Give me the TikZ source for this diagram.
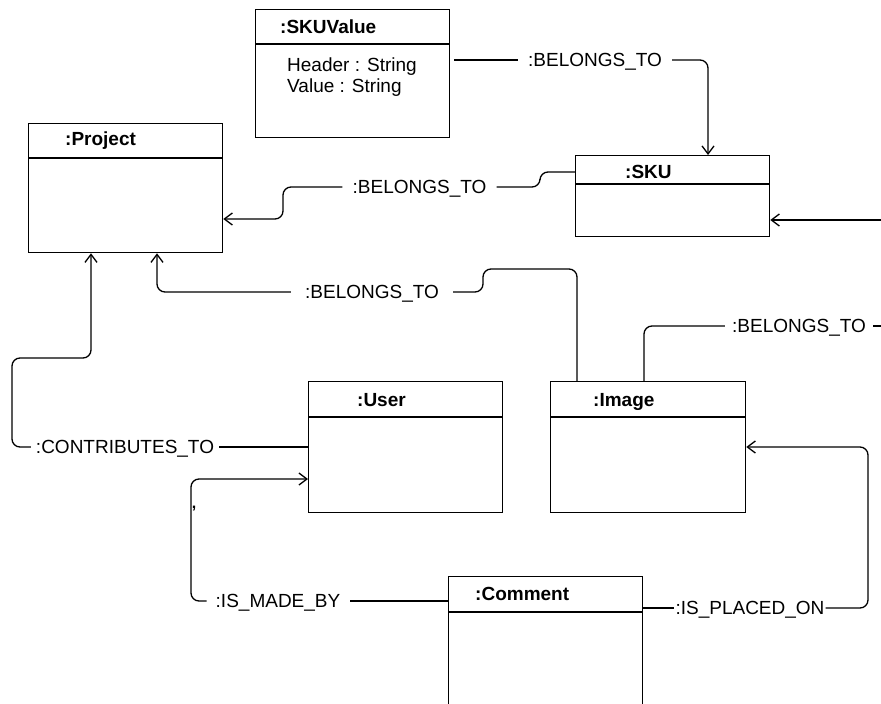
\documentclass[tikz,border=0pt]{standalone}
\usepackage{fontspec}
\setmainfont{Liberation Sans}
\usetikzlibrary{arrows.meta}
\begin{document}
\begin{tikzpicture}[x=1pt,y=-1pt,
  every node/.style={font=\fontsize{19}{23}\selectfont},
  umlbox/.style={draw, line width=1.3pt, rectangle, inner sep=0pt, anchor=north west, minimum width=194pt},
  ttl/.style={font=\fontsize{19}{23}\selectfont\bfseries, anchor=base west, inner sep=0pt},
  attr/.style={anchor=base west, inner sep=0pt},
  lab/.style={inner xsep=8pt, inner ysep=0pt, text height=13.6pt, text depth=0pt},
  conn/.style={line width=1.3pt, rounded corners=8pt},
  arr/.style={conn, -{Straight Barb[length=8pt,width=12pt]}},
  hdr/.style={line width=1.3pt}
]
\useasboundingbox (0,0) rectangle (881,704);
\clip (0,0) rectangle (881,704);

% boxes
\node[umlbox, minimum height=128pt] (skuv) at (255,9) {};
\node[umlbox, minimum height=129pt] (proj) at (28,123) {};
\node[umlbox, minimum height=81pt] (sku) at (575,155) {};
\node[umlbox, minimum height=131pt] (user) at (308,381) {};
\node[umlbox, minimum height=131pt, minimum width=195pt] (img) at (550,381) {};
\node[umlbox, minimum height=150pt] (comm) at (448,576) {};

% header lines
\draw[hdr] (skuv.west |- 0,44) -- (skuv.east |- 0,44);
\draw[hdr] (proj.west |- 0,158) -- (proj.east |- 0,158);
\draw[hdr] (sku.west |- 0,184) -- (sku.east |- 0,184);
\draw[hdr] (user.west |- 0,417) -- (user.east |- 0,417);
\draw[hdr] (img.west |- 0,417) -- (img.east |- 0,417);
\draw[hdr] (comm.west |- 0,612) -- (comm.east |- 0,612);

% titles
\node[ttl] (tskuv) at (280,33) {:SKUValue};
\node[attr] (a1) at (287,71) {Header : String};
\node[attr] (a2) at (287,92) {Value : String};
\node[ttl] (tproj) at (65,145) {:Project};
\node[ttl] (tsku) at (625,178) {:SKU};
\node[ttl] (tuser) at (357,406) {:User};
\node[ttl] (timg) at (593,406) {:Image};
\node[ttl] (tcomm) at (475,600) {:Comment};

% labels
\node[lab, inner xsep=10pt] (l1) at (595,60) {:BELONGS\_TO};
\node[lab, inner xsep=10pt] (l2) at (419.5,187) {:BELONGS\_TO};
\node[lab, inner xsep=14pt] (l3) at (372,292) {:BELONGS\_TO};
\node[lab, inner xsep=7pt] (l4) at (799,326) {:BELONGS\_TO};
\node[lab, inner xsep=5pt] (l5) at (125,447) {:CONTRIBUTES\_TO};
\node[lab, inner xsep=9pt] (l6) at (278,601) {:IS\_MADE\_BY};
\node[lab, inner xsep=1pt] (l7) at (750,608) {:IS\_PLACED\_ON};
\node[inner sep=0pt, font=\fontsize{16}{16}\selectfont\bfseries] (tick) at (194,509) {,};

% bend coordinates
\coordinate (c1) at (708,60);
\coordinate (c2a) at (540,172);
\coordinate (c2b) at (283,219);
\coordinate (c3a) at (577,269);
\coordinate (c3b) at (483,269);
\coordinate (c3c) at (157,292);
\coordinate (c4) at (644,326);
\coordinate (e4) at (881,326);
\coordinate (e5) at (881,220);
\coordinate (c5a) at (12,447);
\coordinate (c5b) at (12,358);
\coordinate (c5c) at (91,358);
\coordinate (c6a) at (191,601);
\coordinate (c6b) at (191,479);
\coordinate (c7a) at (868,608);
\coordinate (c7b) at (868,447);

% connectors
% SKUValue -> SKU
\draw[conn] ([xshift=4pt]skuv.east |- l1) -- (l1.west);
\draw[arr] (l1.east) -- (c1) -- (c1 |- sku.north);
% SKU -> Project
\draw[conn] (c2a -| sku.west) -- (c2a) -- (c2a |- l2) -- (l2.east);
\draw[arr] (l2.west) -- (c2b |- l2) -- (c2b) -- (c2b -| proj.east);
% Image -> Project
\draw[conn] (c3a |- img.north) -- (c3a) -- (c3b) -- (c3b |- l3) -- (l3.east);
\draw[arr] (l3.west) -- (c3c) -- (c3c |- proj.south);
% Image -> off page
\draw[conn] (c4 |- img.north) -- (c4) -- (l4.west);
\draw[conn] (l4.east) -- (e4);
% off page -> SKU
\draw[arr] (e5) -- (e5 -| sku.east);
% User -> Project
\draw[conn] (l5.east) -- (l5.east -| user.west);
\draw[arr] (l5.west) -- (c5a) -- (c5b) -- (c5c) -- (c5c |- proj.south);
% Comment -> User
\draw[conn] (comm.west |- l6) -- (l6.east);
\draw[arr] (l6.west) -- (c6a) -- (c6b) -- (c6b -| user.west);
% Comment -> Image
\draw[conn] (comm.east |- l7) -- (l7.west);
\draw[arr] (l7.east) -- (c7a) -- (c7b) -- (c7b -| img.east);
\end{tikzpicture}
\end{document}
